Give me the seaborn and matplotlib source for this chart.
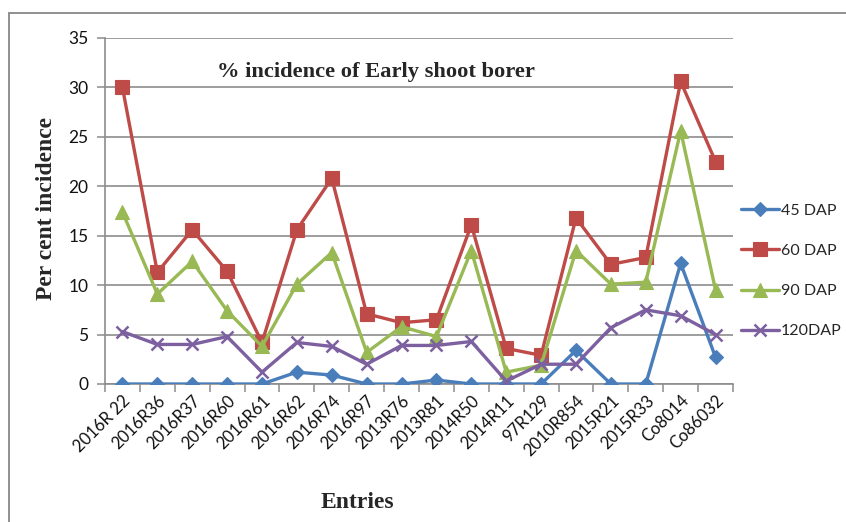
import numpy as np
import pandas as pd
import matplotlib
matplotlib.use("Agg")
import matplotlib.pyplot as plt
from matplotlib.lines import Line2D
import seaborn as sns

entries = ["2016R 22", "2016R36", "2016R37", "2016R60", "2016R61", "2016R62",
           "2016R74", "2016R97", "2013R76", "2013R81", "2014R50", "2014R11",
           "97R129", "2010R854", "2015R21", "2015R33", "Co8014", "Co86032"]

dap45 = [0, 0, 0, 0, 0, 1.2, 0.9, 0, 0, 0.4, 0, 0, 0, 3.4, 0, 0, 12.2, 2.7]
dap60 = [30.0, 11.3, 15.6, 11.4, 4.2, 15.6, 20.8, 7.1, 6.2, 6.5, 16.1, 3.6,
         2.9, 16.8, 12.1, 12.8, 30.6, 22.5]
dap90 = [17.4, 9.1, 12.4, 7.4, 3.8, 10.1, 13.3, 3.2, 5.8, 4.8, 13.5, 1.2,
         1.9, 13.5, 10.1, 10.3, 25.6, 9.5]
dap120 = [5.3, 4.0, 4.0, 4.8, 1.2, 4.2, 3.8, 2.0, 3.9, 3.9, 4.3, 0.3,
          2.0, 2.0, 5.7, 7.5, 6.9, 5.0]

series_names = ["45 DAP", "60 DAP", "90 DAP", "120DAP"]
series_values = [dap45, dap60, dap90, dap120]

colors = ["#4A7EBB", "#BE4B48", "#98B954", "#7D60A0"]
markers = ["D", "s", "^", "x"]
msizes = [7.5, 10.5, 10.5, 9]

sns.set_theme(style="white")
plt.rcParams["font.family"] = ["Lato", "DejaVu Sans"]

fig = plt.figure(figsize=(8.46, 5.22), dpi=100)
ax = fig.add_axes([105 / 846, 1 - 384 / 522, (733 - 105) / 846, (384 - 38) / 522])

pos = np.arange(len(entries))
for name, vals, c, m, ms in zip(series_names, series_values, colors, markers, msizes):
    df = pd.DataFrame({"pos": pos, "val": vals})
    sns.lineplot(data=df, x="pos", y="val", ax=ax, color=c, linewidth=2.4,
                 marker=m, markersize=ms, markeredgecolor=c,
                 markeredgewidth=1.8 if m == "x" else 0.8, sort=False,
                 label=None, legend=False, zorder=3)

ax.set_xlim(-0.5, len(entries) - 0.5)
ax.set_ylim(0, 35)
ax.set_yticks(np.arange(0, 36, 5))
ax.yaxis.grid(True, color="#8c8c8c", linewidth=1.2)
ax.set_axisbelow(True)

ax.set_xticks(pos)
ax.set_xticklabels(entries, rotation=45, ha="right", rotation_mode="anchor",
                   fontsize=12, color="#111111")
ax.set_xticks(np.arange(-0.5, len(entries), 1), minor=True)
ax.tick_params(axis="x", which="major", length=0, pad=6)
ax.tick_params(axis="x", which="minor", length=6, width=1.1, color="#8c8c8c",
               direction="out", bottom=True)
ax.tick_params(axis="y", which="major", length=6, width=1.1, color="#8c8c8c",
               direction="out", left=True, labelsize=12.5, labelcolor="#111111", pad=6)

for s in ["top", "right"]:
    ax.spines[s].set_visible(False)
for s in ["left", "bottom"]:
    ax.spines[s].set_color("#8c8c8c")
    ax.spines[s].set_linewidth(1.2)

ax.set_xlabel("")
ax.set_ylabel("")

serif = ["Liberation Serif", "DejaVu Serif"]
fig.text(376 / 846, 1 - 72 / 522, "% incidence of Early shoot borer",
         ha="center", va="center", fontsize=16.2, fontweight="bold", family=serif)
fig.text(47 / 846, 1 - 209 / 522, "Per cent incidence", rotation=90,
         ha="center", va="center", fontsize=17, fontweight="bold", family=serif)
fig.text(357 / 846, 1 - 502 / 522, "Entries",
         ha="center", va="center", fontsize=17, fontweight="bold", family=serif)

handles = [Line2D([], [], color=c, linewidth=2.4, marker=m, markersize=ms,
                  markeredgecolor=c, markeredgewidth=1.8 if m == "x" else 0.8)
           for c, m, ms in zip(colors, markers, msizes)]
fig.legend(handles, series_names, loc="center left",
           bbox_to_anchor=(741 / 846, 1 - 271 / 522), frameon=False,
           fontsize=11.5, handlelength=2.4, handletextpad=0.1, labelspacing=1.62,
           borderaxespad=0, borderpad=0)

# outer chart frame
fig.add_artist(Line2D([9 / 846, 9 / 846], [0, 1 - 13 / 522], color="#888888",
                      linewidth=1.3, transform=fig.transFigure))
fig.add_artist(Line2D([9 / 846, 1], [1 - 13 / 522, 1 - 13 / 522], color="#888888",
                      linewidth=1.3, transform=fig.transFigure))

fig.savefig("out.png", dpi=100)
